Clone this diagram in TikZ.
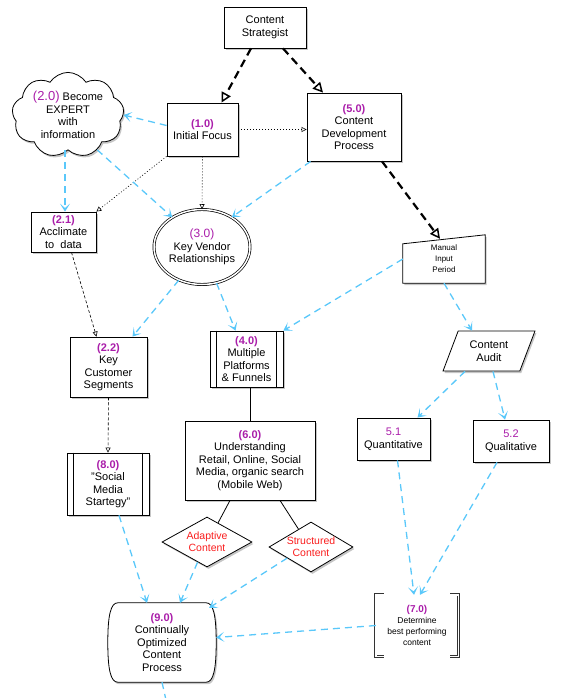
\documentclass[tikz,border=0pt]{standalone}
\usepackage{fontspec}
\setmainfont{Liberation Sans}
\usetikzlibrary{arrows.meta,shapes.geometric,shapes.symbols,shadows,backgrounds}
\definecolor{flowcyan}{RGB}{90,200,250}
\definecolor{nummag}{RGB}{170,30,170}
\definecolor{warnred}{RGB}{250,30,30}
\newcommand{\stepno}[1]{\textcolor{nummag}{\textbf{#1}}}
\newcommand{\stepnr}[1]{\textcolor{nummag}{#1}}
\begin{document}
\begin{tikzpicture}[x=1pt,y=-1pt,
    every node/.style={font=\fontsize{11}{12.5}\selectfont, align=center},
    dropsh/.style={drop shadow={shadow xshift=1.5pt,shadow yshift=-2pt,opacity=.45}},
    box/.style={draw, fill=white, line width=0.8pt, dropsh, inner sep=1pt},
    decide/.style={diamond, box, inner sep=-6pt, text=warnred, font=\fontsize{10.5}{12}\selectfont},
    flow/.style={draw=flowcyan, line width=1.3pt, dash pattern=on 7pt off 5pt, -{Stealth[length=8pt,width=10pt,inset=4.5pt,flowcyan]}},
    heavy/.style={line width=2.2pt, dash pattern=on 8pt off 5pt, -{Triangle[open,length=10pt,width=10pt,line width=1.5pt]}},
    dots/.style={line width=0.6pt, dash pattern=on 1pt off 2pt, -{Triangle[open,length=5pt,width=5pt]}},
    thindash/.style={line width=0.6pt, dash pattern=on 3pt off 2pt, -{Triangle[open,length=5pt,width=5pt]}},
    link/.style={line width=0.8pt}]
  \useasboundingbox (0,0) rectangle (562,698);

  \node[box, minimum width=82pt, minimum height=41pt] (cs) at (265,27.5) {Content\\Strategist};
  \node[cloud, box, cloud puffs=9, cloud puff arc=115, aspect=1.4, minimum width=112pt, minimum height=80pt, inner sep=0pt] (exp) at (68,115)
    {\stepnr{\fontsize{13}{14}\selectfont(2.0)} Become\\EXPERT\\with\\information};
  \node[box, minimum width=71pt, minimum height=53pt] (f1) at (202.5,129.5) {\stepno{(1.0)}\\Initial Focus};
  \node[box, minimum width=94pt, minimum height=68pt] (cdp) at (354,127) {\stepno{(5.0)}\\Content\\Development\\Process};
  \node[box, minimum width=65pt, minimum height=40pt] (ac) at (63.5,232) {\stepno{(2.1)}\\Acclimate\\to\ \ data};
  \node[ellipse, draw, double, double distance=1.5pt, fill=white, line width=0.7pt, minimum width=96pt, minimum height=75pt, inner sep=0pt] (kv) at (202,247)
    {\stepnr{\fontsize{12}{13}\selectfont(3.0)}\\Key Vendor\\Relationships};
  \node[minimum width=82pt, minimum height=48pt, inner sep=0pt, font=\fontsize{8}{11}\selectfont] (mi) at (444,259) {Manual\\Input\\Period};
  \node[box, minimum width=77pt, minimum height=60pt] (kcs) at (108.5,367) {\stepno{(2.2)}\\Key\\Customer\\Segments};
  \node[box, minimum width=73pt, minimum height=56pt] (mp) at (246.5,359) {\stepno{(4.0)}\\Multiple\\Platforms\\\& Funnels};
  \node[trapezium, box, trapezium left angle=65, trapezium right angle=115, trapezium stretches=true, minimum width=92pt, minimum height=40pt, inner sep=0pt] (ca) at (489,351) {Content\\Audit};
  \node[box, minimum width=73pt, minimum height=42pt] (q1) at (393.5,439) {\stepnr{5.1}\\Quantitative};
  \node[box, minimum width=76pt, minimum height=42pt] (q2) at (511,441) {\stepnr{5.2}\\Qualitative};
  \node[box, minimum width=130pt, minimum height=79pt] (und) at (250,460.5)
    {\stepno{(6.0)}\\Understanding\\Retail, Online, Social\\Media, organic search\\(Mobile Web)};
  \node[box, minimum width=82pt, minimum height=62pt] (smd) at (108,484) {\stepno{(8.0)}\\"Social\\Media\\Startegy"};
  \node[decide, minimum width=90pt, minimum height=50pt] (ad) at (207,542) {Adaptive\\Content};
  \node[decide, minimum width=84pt, minimum height=50pt] (st) at (311,547) {Structured\\Content};
  \node[minimum width=108pt, minimum height=79pt, inner sep=0pt] (co) at (162,642.5)
    {\stepno{(9.0)}\\Continually\\Optimized\\Content\\Process};
  \node[minimum width=82pt, minimum height=61pt, inner sep=0pt, font=\fontsize{8.5}{11}\selectfont] (dbp) at (417,625.5)
    {{\fontsize{10}{12}\selectfont\stepno{(7.0)}}\\Determine\\best performing\\content};
  \coordinate (more) at (166,700);

  \begin{scope}[on background layer]
    \draw[fill=white, dropsh, line width=0.8pt] (mi.south west) -- (mi.south east) -- (mi.north east) -- ([yshift=-9pt]mi.north west) -- cycle;
    \draw[fill=white, dropsh, line width=0.8pt] ([xshift=10pt]co.north west) -- ([xshift=-10pt]co.north east)
      .. controls ([xshift=-3pt]co.north east) and ([yshift=-12pt]co.north east) .. (co.east)
      .. controls ([yshift=12pt]co.south east) and ([xshift=-3pt]co.south east) .. ([xshift=-10pt]co.south east)
      -- ([xshift=10pt]co.south west)
      .. controls ([xshift=3pt]co.south west) and ([yshift=12pt]co.south west) .. (co.west)
      .. controls ([yshift=-12pt]co.north west) and ([xshift=3pt]co.north west) .. cycle;
  \end{scope}
  \foreach \n in {mp,smd}
    \draw[link] ([xshift=7pt]\n.north west) -- ([xshift=7pt]\n.south west) ([xshift=-7pt]\n.north east) -- ([xshift=-7pt]\n.south east);
  \draw[double, double distance=1.4pt, line width=0.8pt, draw=black!80]
    ([xshift=8pt]dbp.north west) -- (dbp.north west) -- (dbp.south west) -- ([xshift=8pt]dbp.south west)
    ([xshift=-8pt]dbp.north east) -- (dbp.north east) -- (dbp.south east) -- ([xshift=-8pt]dbp.south east);

  \draw[heavy] ([xshift=-14pt]cs.south) -- ([xshift=19pt]f1.north);
  \draw[heavy] ([xshift=18pt]cs.south) -- ([xshift=-31pt]cdp.north);
  \draw[heavy] ([xshift=28pt]cdp.south) -- ([xshift=-4pt,yshift=-4pt]mi.north);
  \draw[dots] (f1.east) -- (f1.east -| cdp.west);
  \draw[dots] (f1.south west) -- (ac.north east);
  \draw[dots] (f1.south) -- (kv.north);
  \draw[thindash] ([xshift=8pt]ac.south) -- ([xshift=-12pt]kcs.north);
  \draw[thindash] (kcs.south) -- (smd.north);
  \draw[link] (mp.south -| und.north) -- (und.north);
  \draw[link] ([xshift=-20pt]und.south) -- (ad.60);
  \draw[link] ([xshift=30pt]und.south) -- (st.125);

  \draw[flow] ([yshift=4pt]f1.west) -- (exp.east);
  \draw[flow] ([xshift=1.5pt]ac.north |- exp.south) -- ([xshift=1.5pt]ac.north);
  \draw[flow] (exp.-50) -- (kv.135);
  \draw[flow] ([xshift=4pt]cdp.south west) -- (kv.45);
  \draw[flow] (kv.-125) -- ([xshift=24pt]kcs.north);
  \draw[flow] (kv.-68) -- ([xshift=-11pt]mp.north);
  \draw[flow] (mi.west) -- (mp.north east);
  \draw[flow] (mi.south) -- ([xshift=-17pt]ca.north);
  \draw[flow] ([xshift=-24pt]ca.south) -- ([xshift=24pt]q1.north);
  \draw[flow] ([xshift=4pt]ca.south) -- ([xshift=-6pt]q2.north);
  \draw[flow] ([xshift=11pt]smd.south) -- ([xshift=-15pt]co.north);
  \draw[flow] (ad.-115) -- ([xshift=18pt]co.north);
  \draw[flow] (st.-155) -- ([xshift=-7pt,yshift=-5pt]co.north east);
  \draw[flow] ([xshift=4pt]q1.south) -- ([xshift=-3pt]dbp.north);
  \draw[flow] ([xshift=-14pt]q2.south) -- ([xshift=3pt]dbp.north);
  \draw[flow] (dbp.west) -- ([yshift=5pt]co.east);
  \draw[flow, -] (co.south) -- (more);
\end{tikzpicture}
\end{document}
